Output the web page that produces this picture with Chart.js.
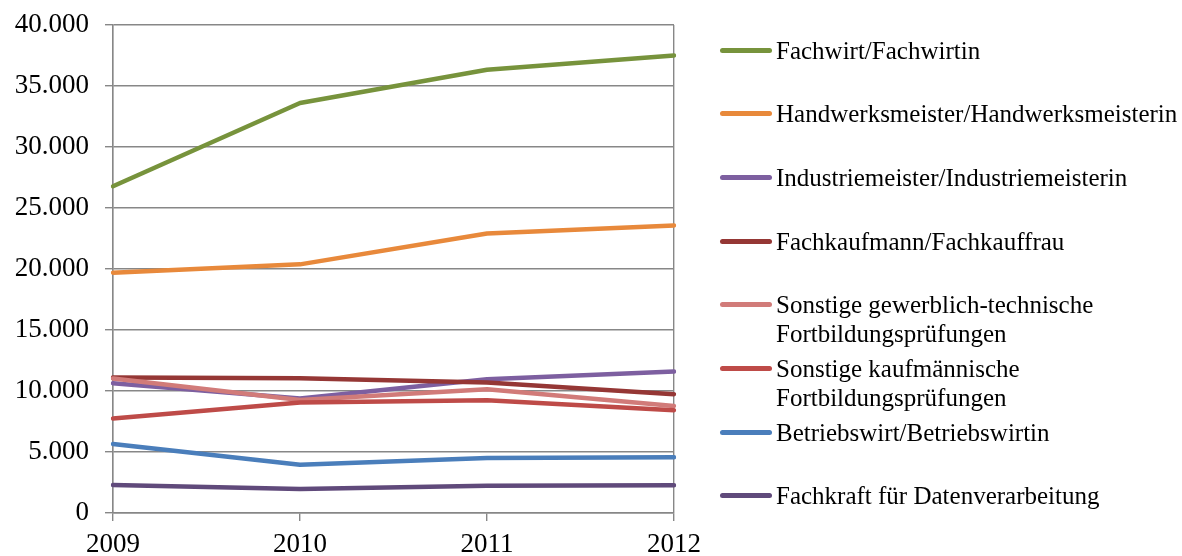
<!DOCTYPE html>
<html>
<head>
<meta charset="utf-8">
<script src="https://cdn.jsdelivr.net/npm/chart.js@4/dist/chart.umd.min.js"></script>
<style>
  html, body { margin: 0; padding: 0; background: #fff; }
  #wrap { position: relative; width: 1182px; height: 556px; overflow: hidden; }
  #c { position: absolute; left: 0; top: 0; }
  #legend { position: absolute; left: 0; top: 0; width: 1182px; height: 556px; pointer-events: none;
            font-family: "Liberation Serif", "Times New Roman", serif; font-size: 25px; color: #000; }
  .li { position: absolute; left: 720px; white-space: nowrap; }
  .sw { position: absolute; left: 0; width: 52px; height: 5px; border-radius: 3px; }
  .tx { position: absolute; left: 56px; line-height: 29px; }
</style>
</head>
<body>
<div id="wrap">
  <canvas id="c" width="1182" height="556"></canvas>
  <div id="legend"></div>
</div>
<script>
const years = ["2009", "2010", "2011", "2012"];
const seriesNames = [
  "Fachwirt/Fachwirtin",
  "Handwerksmeister/Handwerksmeisterin",
  "Industriemeister/Industriemeisterin",
  "Fachkaufmann/Fachkauffrau",
  ["Sonstige gewerblich-technische", "Fortbildungsprüfungen"],
  ["Sonstige kaufmännische", "Fortbildungsprüfungen"],
  "Betriebswirt/Betriebswirtin",
  "Fachkraft für Datenverarbeitung"
];
const fachwirt        = [26780, 33610, 36330, 37500];
const handwerk        = [19700, 20380, 22910, 23570];
const industrie       = [10640, 9380, 10960, 11590];
const fachkaufmann    = [11100, 11050, 10700, 9740];
const sonstGewerblich = [11020, 9270, 10150, 8780];
const sonstKaufm      = [7750, 9060, 9250, 8430];
const betriebswirt    = [5650, 3950, 4500, 4560];
const datenverarb     = [2290, 1960, 2230, 2270];
const yTicks = [0, 5000, 10000, 15000, 20000, 25000, 30000, 35000, 40000];

const seriesValues = [fachwirt, handwerk, industrie, fachkaufmann, sonstGewerblich, sonstKaufm, betriebswirt, datenverarb];
const colors = ["#77933C", "#E8893B", "#7D5FA0", "#953735", "#D17B79", "#BE4B48", "#4A7EBB", "#604A7B"];

const fmt = v => String(v).replace(/\B(?=(\d{3})+(?!\d))/g, ".");
const gridGray = "#878787";
const n = seriesValues.length;

const datasets = seriesValues.map((vals, i) => ({
  label: Array.isArray(seriesNames[i]) ? seriesNames[i].join(" ") : seriesNames[i],
  data: vals,
  borderColor: colors[i],
  backgroundColor: colors[i],
  borderWidth: 4.5,
  pointRadius: 0,
  pointHoverRadius: 0,
  tension: 0,
  fill: false,
  borderCapStyle: "round",
  borderJoinStyle: "round",
  order: n - i
}));

new Chart(document.getElementById("c"), {
  type: "line",
  data: { labels: years, datasets },
  options: {
    responsive: false,
    animation: false,
    events: [],
    layout: { padding: { left: 0, right: 508, top: 25, bottom: 0 } },
    plugins: { legend: { display: false }, tooltip: { enabled: false } },
    scales: {
      x: {
        offset: false,
        grid: {
          color: ctx => (ctx.index === 0 || ctx.index === years.length - 1) ? gridGray : "rgba(0,0,0,0)",
          tickColor: gridGray,
          lineWidth: 1.4,
          tickLength: 8,
          drawOnChartArea: true
        },
        border: { display: true, color: gridGray, width: 1.4 },
        ticks: {
          color: "#000",
          font: { family: "'Liberation Serif', 'Times New Roman', serif", size: 27 },
          padding: 8,
          maxRotation: 0,
          autoSkip: false
        },
        afterFit: s => { s.height = 43; s.paddingLeft = 0; s.paddingRight = 0; }
      },
      y: {
        min: 0, max: 40000,
        afterBuildTicks: s => { s.ticks = yTicks.map(v => ({ value: v })); },
        grid: { color: gridGray, lineWidth: 1.4, tickLength: 8, tickColor: gridGray },
        border: { display: true, color: gridGray, width: 1.4 },
        ticks: {
          color: "#000",
          font: { family: "'Liberation Serif', 'Times New Roman', serif", size: 27 },
          padding: 16,
          callback: v => fmt(v)
        },
        afterFit: s => { s.width = 113; s.paddingTop = 0; s.paddingBottom = 0; }
      }
    }
  }
});

// HTML legend built from series names and colours
const legend = document.getElementById("legend");
seriesNames.forEach((name, i) => {
  const cy = 50 + i * 63.7;
  const item = document.createElement("div");
  item.className = "li";
  item.style.top = (cy - 14.5) + "px";
  const sw = document.createElement("div");
  sw.className = "sw";
  sw.style.background = colors[i];
  sw.style.top = (14.5 - 2.5) + "px";
  const tx = document.createElement("div");
  tx.className = "tx";
  tx.innerHTML = (Array.isArray(name) ? name : [name]).join("<br>");
  item.appendChild(sw);
  item.appendChild(tx);
  legend.appendChild(item);
});
</script>
</body>
</html>
